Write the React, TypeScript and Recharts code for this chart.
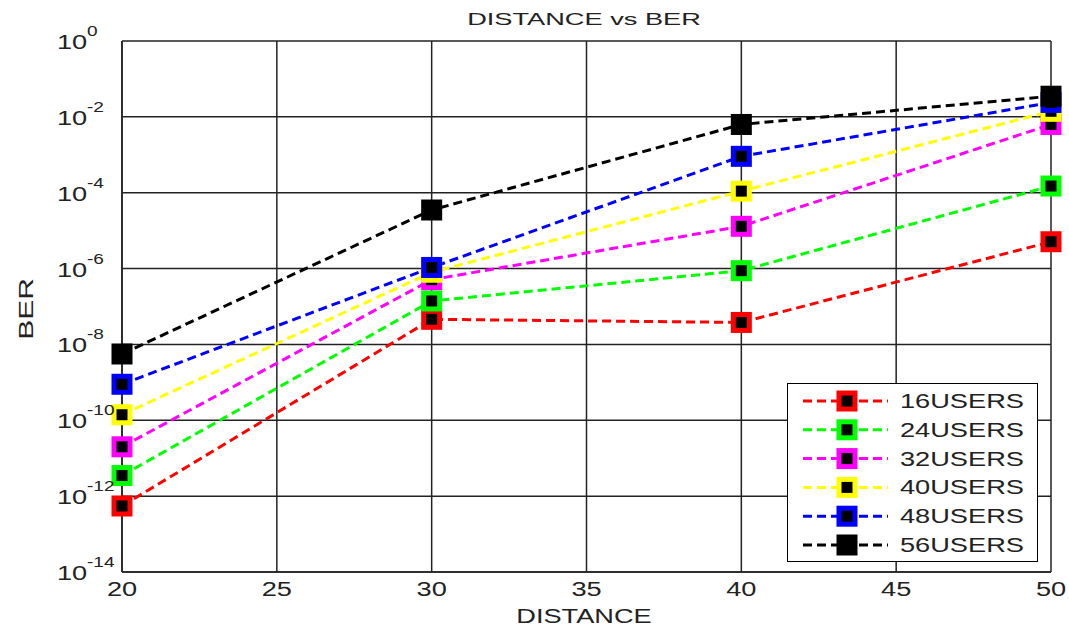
import { CartesianGrid, Line, LineChart, XAxis, YAxis } from "recharts";

const distance = [20, 30, 40, 50];
const users16 = [5.5e-13, 4.6e-8, 3.8e-8, 5.1e-6];
const users24 = [3.5e-12, 1.4e-7, 8.8e-7, 1.5e-4];
const users32 = [2.0e-11, 5.1e-7, 1.3e-5, 6.3e-3];
const users40 = [1.4e-10, 8.0e-7, 1.1e-4, 1.4e-2];
const users48 = [8.9e-10, 1.07e-6, 9.1e-4, 2.4e-2];
const users56 = [5.6e-9, 3.5e-5, 6.3e-3, 3.5e-2];

const xTicks = [20, 25, 30, 35, 40, 45, 50];
const yExps = [0, -2, -4, -6, -8, -10, -12, -14];

const SERIES = [
  { key: "u16", name: "16USERS", color: "#ff0000", values: users16 },
  { key: "u24", name: "24USERS", color: "#00ff00", values: users24 },
  { key: "u32", name: "32USERS", color: "#ff00ff", values: users32 },
  { key: "u40", name: "40USERS", color: "#ffff00", values: users40 },
  { key: "u48", name: "48USERS", color: "#0000ff", values: users48 },
  { key: "u56", name: "56USERS", color: "#000000", values: users56 },
];

const data = distance.map((d, i) => {
  const row: Record<string, number> = { d };
  SERIES.forEach((s) => (row[s.key] = s.values[i]));
  return row;
});

const FONT = "'Liberation Sans', Arial, sans-serif";
const TEXT = "#222";
const SX = 1.36; // the source figure is stretched horizontally

// text stretched sideways like the exported figure
function SText({ x, y, size, anchor = "start", sx = SX, rotate = 0, children }: any) {
  return (
    <text
      transform={`translate(${x},${y}) rotate(${rotate}) scale(${sx},1)`}
      fontSize={size}
      fill={TEXT}
      fontFamily={FONT}
      textAnchor={anchor}
    >
      {children}
    </text>
  );
}

function Marker({ cx, cy, color }: { cx?: number; cy?: number; color: string }) {
  if (cx == null || cy == null) return null;
  const black = color === "#000000";
  return (
    <rect
      x={cx - 8}
      y={cy - 8}
      width={16}
      height={16}
      fill="#000"
      stroke={black ? "#000" : color}
      strokeWidth={5}
    />
  );
}

function YTick({ x, y, payload }: any) {
  const exp = Math.round(Math.log10(payload.value));
  return (
    <g>
      <SText x={x - 65} y={y + 8} size={20}>10</SText>
      <SText x={x - 35} y={y - 5} size={14}>{exp}</SText>
    </g>
  );
}

function XTick({ x, y, payload }: any) {
  return (
    <SText x={x} y={y + 24} size={20} anchor="middle">
      {payload.value}
    </SText>
  );
}

// matlab-style legend box, drawn over the plot
function LegendBox() {
  return (
    <div
      style={{
        position: "absolute",
        left: 787,
        top: 383,
        width: 251,
        height: 179,
        border: "1.5px solid #000",
        background: "#fff",
        boxSizing: "border-box",
        paddingTop: 5,
      }}
    >
      <svg width={246} height={172} style={{ display: "block" }}>
        {SERIES.map((s, i) => {
          const y = 12 + i * 28.8;
          return (
            <g key={s.key}>
              <line x1={15} x2={100} y1={y} y2={y} stroke={s.color} strokeWidth={3} strokeDasharray="9 5" />
              <Marker cx={59} cy={y} color={s.color} />
              <SText x={112} y={y + 7} size={20}>{s.name}</SText>
            </g>
          );
        })}
      </svg>
    </div>
  );
}

export default function App() {
  return (
    <div style={{ position: "absolute", left: 0, top: 0, width: 1069, height: 627, background: "#fff" }}>
      <LineChart width={1069} height={627} data={data} margin={{ top: 41, right: 18, left: 0, bottom: 0 }}>
        <CartesianGrid stroke="#222" strokeWidth={1.5} horizontal vertical />
        <XAxis
          dataKey="d"
          type="number"
          domain={[20, 50]}
          ticks={xTicks}
          height={55}
          stroke="#222"
          strokeWidth={1.5}
          tickLine={false}
          tickSize={0}
          tickMargin={0}
          tick={<XTick />}
        />
        <YAxis
          scale="log"
          domain={[1e-14, 1]}
          allowDataOverflow
          ticks={yExps.map((e) => Math.pow(10, e))}
          width={122}
          stroke="#222"
          strokeWidth={1.5}
          tickLine={false}
          tickSize={0}
          tickMargin={0}
          tick={<YTick />}
        />
        {SERIES.map((s) => (
          <Line
            key={s.key}
            dataKey={s.key}
            name={s.name}
            stroke={s.color}
            strokeWidth={3}
            strokeDasharray="9 5"
            isAnimationActive={false}
            dot={(p: any) => <Marker key={`${s.key}-${p.index}`} cx={p.cx} cy={p.cy} color={s.color} />}
            activeDot={false}
          />
        ))}
      </LineChart>
      <svg
        width={1069}
        height={627}
        style={{ position: "absolute", left: 0, top: 0, pointerEvents: "none" }}
      >
        <SText x={584} y={25} size={17} anchor="middle" sx={1.6}>DISTANCE vs BER</SText>
        <SText x={584} y={623} size={20} anchor="middle">DISTANCE</SText>
        <SText x={33} y={309} size={20} anchor="middle" rotate={-90} sx={1.5}>BER</SText>
      </svg>
      <LegendBox />
    </div>
  );
}
